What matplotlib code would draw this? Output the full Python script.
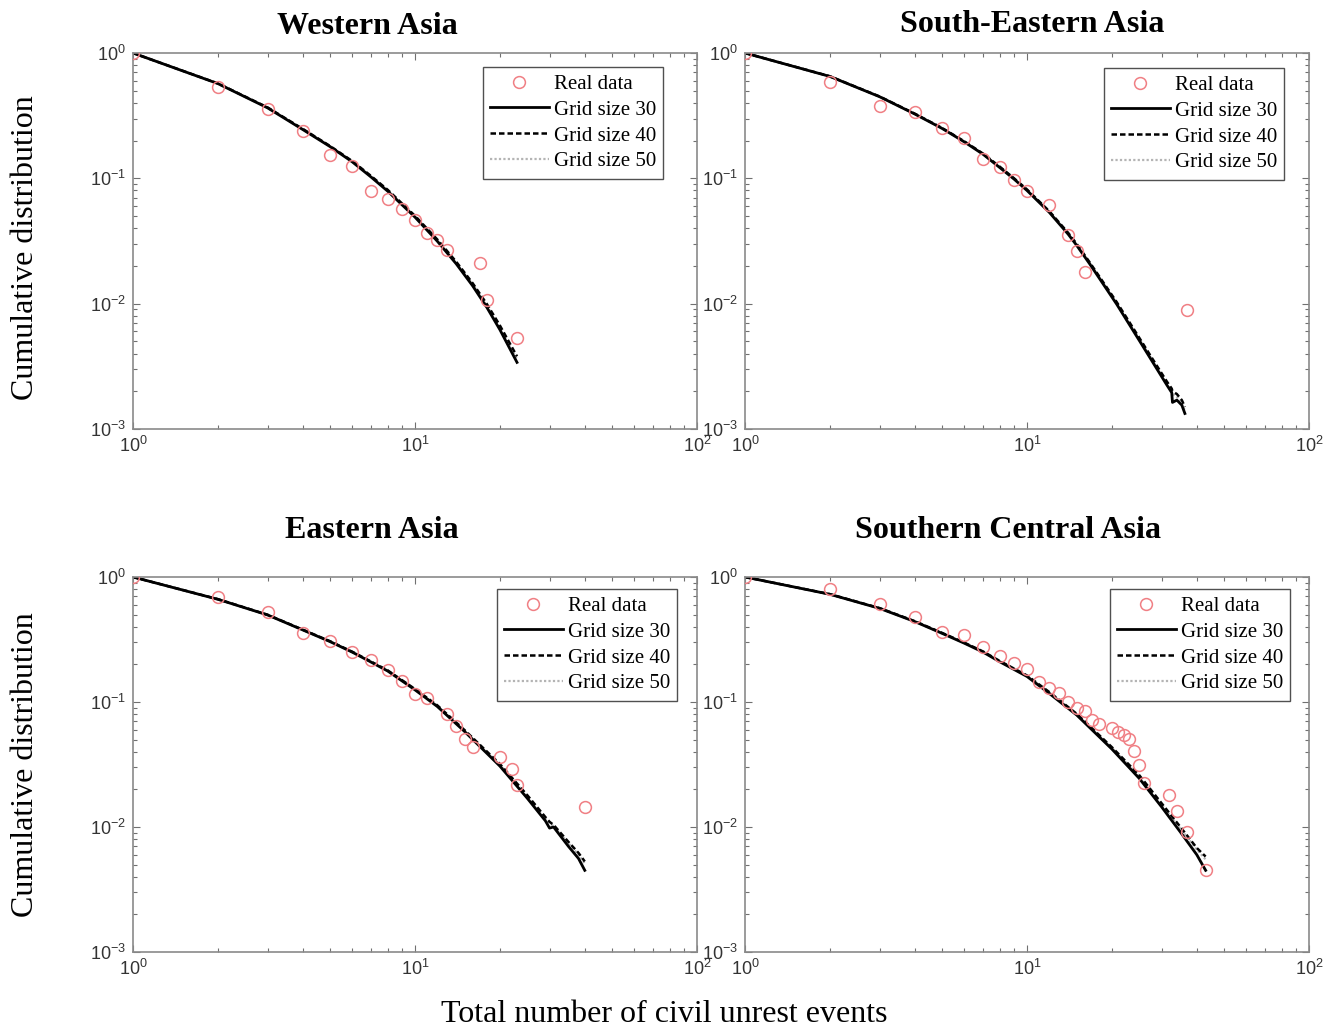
import matplotlib
matplotlib.use("Agg")
import matplotlib.pyplot as plt
from matplotlib.ticker import FixedLocator, FixedFormatter, LogLocator, NullFormatter

# ---------------- data ----------------
titles = ["Western Asia", "South-Eastern Asia", "Eastern Asia", "Southern Central Asia"]
legend_labels = ["Real data", "Grid size 30", "Grid size 40", "Grid size 50"]

# Western Asia
wa_real_x = [1, 2, 3, 4, 5, 6, 7, 8, 9, 10, 11, 12, 13, 17, 18, 23]
wa_real_y = [1, 0.535, 0.357, 0.238, 0.153, 0.126, 0.079, 0.068, 0.057, 0.0465, 0.0366, 0.032, 0.027, 0.021, 0.0107, 0.0053]
wa_grid_x = [1, 2, 3, 4, 5, 6, 7, 8, 10, 12, 14, 16, 18, 20, 23]
wa_g30 = [1, 0.57, 0.365, 0.245, 0.179, 0.135, 0.102, 0.079, 0.049, 0.0315, 0.0208, 0.0139, 0.0093, 0.0062, 0.0034]
wa_g40 = [1, 0.572, 0.368, 0.248, 0.181, 0.137, 0.104, 0.081, 0.0502, 0.0325, 0.0216, 0.0146, 0.0099, 0.0067, 0.0038]
wa_g50 = [1, 0.571, 0.367, 0.247, 0.180, 0.136, 0.103, 0.080, 0.0496, 0.0320, 0.0212, 0.0143, 0.0096, 0.0065, 0.0036]

# South-Eastern Asia
se_real_x = [1, 2, 3, 4, 5, 6, 7, 8, 9, 10, 12, 14, 15, 16, 37]
se_real_y = [1, 0.59, 0.378, 0.336, 0.254, 0.211, 0.142, 0.124, 0.097, 0.0796, 0.0616, 0.0353, 0.0263, 0.0178, 0.0089]
se_grid_x = [1, 2, 3, 4, 5, 6, 7, 8, 9, 10, 12, 14, 15, 16.7, 20.8, 25.2, 27.3, 31.3, 32.6, 32.8, 34, 35.4, 36.3]
se_g30 = [1, 0.65, 0.448, 0.326, 0.25, 0.195, 0.155, 0.122, 0.0985, 0.080, 0.0535, 0.0358, 0.0292, 0.0207, 0.0099, 0.00495, 0.0037, 0.00225, 0.00195, 0.00163, 0.0017, 0.00155, 0.00133]
se_g40 = [1, 0.652, 0.45, 0.328, 0.252, 0.197, 0.157, 0.124, 0.100, 0.0815, 0.0546, 0.0367, 0.0300, 0.0213, 0.0103, 0.0052, 0.0039, 0.0024, 0.0021, 0.0020, 0.0019, 0.0017, 0.0015]
se_g50 = [1, 0.651, 0.449, 0.327, 0.251, 0.196, 0.156, 0.123, 0.0993, 0.0808, 0.0541, 0.0363, 0.0296, 0.0210, 0.0101, 0.0051, 0.0038, 0.0023, 0.0020, 0.0019, 0.0018, 0.0016, 0.0014]

# Eastern Asia
ea_real_x = [1, 2, 3, 4, 5, 6, 7, 8, 9, 10, 11, 13, 14, 15, 16, 20, 22, 23, 40]
ea_real_y = [1, 0.696, 0.528, 0.354, 0.31, 0.253, 0.217, 0.18, 0.147, 0.115, 0.108, 0.080, 0.0646, 0.051, 0.0434, 0.036, 0.0291, 0.0217, 0.0145]
ea_grid_x = [1, 2, 3, 4, 5, 6, 7, 8, 10, 12, 15, 20, 25, 29, 30, 31, 35, 38, 40]
ea_g30 = [1, 0.663, 0.497, 0.377, 0.304, 0.25, 0.208, 0.177, 0.125, 0.092, 0.058, 0.0307, 0.0170, 0.0112, 0.0098, 0.0100, 0.0070, 0.0056, 0.0045]
ea_g40 = [1, 0.665, 0.499, 0.379, 0.306, 0.252, 0.210, 0.179, 0.127, 0.094, 0.0595, 0.0319, 0.0180, 0.0120, 0.0110, 0.0104, 0.0076, 0.0062, 0.0053]
ea_g50 = [1, 0.664, 0.498, 0.378, 0.305, 0.251, 0.209, 0.178, 0.126, 0.093, 0.0588, 0.0314, 0.0177, 0.0117, 0.0107, 0.0102, 0.0074, 0.0060, 0.0051]

# Southern Central Asia
sc_real_x = [1, 2, 3, 4, 5, 6, 7, 8, 9, 10, 11, 12, 13, 14, 15, 16, 17, 18, 20, 21, 22, 23, 24, 25, 26, 32, 34, 37, 43]
sc_real_y = [1, 0.797, 0.608, 0.482, 0.365, 0.341, 0.277, 0.233, 0.206, 0.184, 0.1455, 0.129, 0.119, 0.1006, 0.090, 0.085, 0.0718, 0.0667, 0.0623, 0.058, 0.0545, 0.0503, 0.0408, 0.0313, 0.0224, 0.018, 0.0134, 0.0092, 0.0045]
sc_grid_x = [1, 2, 3, 4, 5, 6, 7, 8, 10, 12, 15, 20, 25, 30, 35, 40, 43]
sc_g30 = [1, 0.727, 0.561, 0.44, 0.354, 0.295, 0.25, 0.21, 0.16, 0.117, 0.0787, 0.042, 0.0245, 0.0145, 0.0091, 0.0060, 0.0045]
sc_g40 = [1, 0.729, 0.564, 0.443, 0.357, 0.298, 0.253, 0.213, 0.163, 0.120, 0.0805, 0.0435, 0.0260, 0.0155, 0.0100, 0.0068, 0.0058]
sc_g50 = [1, 0.728, 0.563, 0.442, 0.356, 0.297, 0.252, 0.212, 0.162, 0.119, 0.0798, 0.0430, 0.0255, 0.0151, 0.0097, 0.0066, 0.0055]

x_ticks = [1, 10, 100]
x_tick_labels = [r"$10^{0}$", r"$10^{1}$", r"$10^{2}$"]
y_ticks = [1e-3, 1e-2, 1e-1, 1]
y_tick_labels = [r"$10^{-3}$", r"$10^{-2}$", r"$10^{-1}$", r"$10^{0}$"]

panels = [
    (wa_real_x, wa_real_y, wa_grid_x, wa_g30, wa_g40, wa_g50),
    (se_real_x, se_real_y, se_grid_x, se_g30, se_g40, se_g50),
    (ea_real_x, ea_real_y, ea_grid_x, ea_g30, ea_g40, ea_g50),
    (sc_real_x, sc_real_y, sc_grid_x, sc_g30, sc_g40, sc_g50),
]

# ---------------- figure ----------------
plt.rcParams["font.family"] = ["Liberation Serif", "DejaVu Serif"]
plt.rcParams["mathtext.fontset"] = "custom"
plt.rcParams["mathtext.rm"] = "Liberation Sans"
plt.rcParams["mathtext.it"] = "Liberation Sans"
plt.rcParams["mathtext.bf"] = "Liberation Sans:bold"
plt.rcParams["mathtext.default"] = "rm"

W, H = 1328, 1029
fig = plt.figure(figsize=(W / 100, H / 100), dpi=100)

axes_px = [(133, 53, 697, 429), (745, 53, 1309, 429), (133, 577, 697, 952), (745, 577, 1309, 952)]
legend_px = [(483, 67), (1104, 68), (497, 589), (1110, 589)]
title_px = [(367, 26), (1032, 24), (372, 531), (1008, 531)]

spine_col = "#8a8a8a"
for i, (rect, data, title) in enumerate(zip(axes_px, panels, titles)):
    l, t, r, b = rect
    ax = fig.add_axes([l / W, 1 - b / H, (r - l) / W, (b - t) / H])
    rx, ry, gx, g30, g40, g50 = data
    h0, = ax.plot(rx, ry, linestyle="none", marker="o", markersize=8.5, markerfacecolor="none",
                  markeredgecolor="#f07f84", markeredgewidth=1.1, zorder=3)
    h3, = ax.plot(gx, g50, color="#b4b4b4", linestyle=(0, (1, 1)), linewidth=1.6, zorder=2)
    h2, = ax.plot(gx, g40, color="black", linestyle=(0, (2.2, 1.2)), linewidth=1.8, zorder=2)
    h1, = ax.plot(gx, g30, color="black", linestyle="-", linewidth=2.0, zorder=2)
    ax.set_xscale("log")
    ax.set_yscale("log")
    ax.set_xlim(1, 100)
    ax.set_ylim(1e-3, 1)
    ax.xaxis.set_major_locator(FixedLocator(x_ticks))
    ax.xaxis.set_major_formatter(FixedFormatter(x_tick_labels))
    ax.yaxis.set_major_locator(FixedLocator(y_ticks))
    ax.yaxis.set_major_formatter(FixedFormatter(y_tick_labels))
    ax.xaxis.set_minor_locator(LogLocator(base=10, subs=range(2, 10)))
    ax.yaxis.set_minor_locator(LogLocator(base=10, subs=range(2, 10)))
    ax.xaxis.set_minor_formatter(NullFormatter())
    ax.yaxis.set_minor_formatter(NullFormatter())
    ax.tick_params(which="both", direction="in", top=True, right=True, color="#707070", width=0.8)
    ax.tick_params(which="major", length=5, labelsize=13, labelcolor="#333333", pad=5)
    ax.tick_params(which="minor", length=3)
    for s in ax.spines.values():
        s.set_color(spine_col)
        s.set_linewidth(1.2)
    tx, ty = title_px[i]
    fig.text(tx / W, 1 - ty / H, title, ha="center", va="center", fontsize=23, fontweight="bold")
    lx, ly = legend_px[i]
    ax.legend([h0, h1, h2, h3], legend_labels, loc="upper left",
              bbox_to_anchor=((lx - l) / (r - l), 1 - (ly - t) / (b - t)),
              fontsize=15, frameon=True, fancybox=False, edgecolor="#505050",
              framealpha=1, borderpad=0.35, labelspacing=0.3, handlelength=2.8,
              handletextpad=0.25, borderaxespad=0)
    ax.get_legend().get_frame().set_linewidth(1.0)

fig.text(26 / W, 1 - 248 / H, "Cumulative distribution", rotation=90, ha="center", va="center", fontsize=23)
fig.text(26 / W, 1 - 765 / H, "Cumulative distribution", rotation=90, ha="center", va="center", fontsize=23)
fig.text(664 / W, 1 - 1014 / H, "Total number of civil unrest events", ha="center", va="center", fontsize=23)

fig.savefig("out.png", dpi=100)
